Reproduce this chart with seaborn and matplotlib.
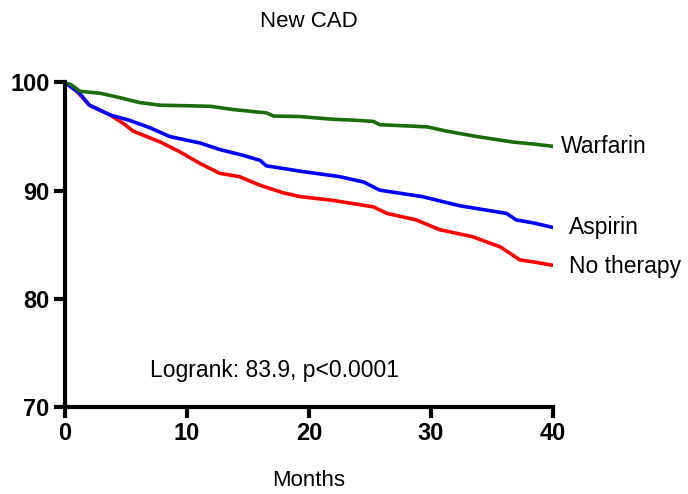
import pandas as pd
import matplotlib
matplotlib.use('Agg')
import matplotlib.pyplot as plt
import seaborn as sns

# survival curves (months, % event free)
warfarin_months = [0, 0.5, 1.2, 2.0, 2.9, 4.5, 6.1, 7.8, 10.0, 11.9, 13.8, 15.5, 16.5, 17.1, 19.3, 22.0, 24.0, 25.3, 25.8, 29.7, 31.3, 33.8, 36.7, 38.5, 40.0]
warfarin_pct = [100, 99.8, 99.2, 99.1, 99.0, 98.6, 98.15, 97.9, 97.85, 97.8, 97.5, 97.3, 97.2, 96.9, 96.85, 96.6, 96.5, 96.4, 96.1, 95.9, 95.5, 95.0, 94.5, 94.3, 94.1]

aspirin_months = [0, 1.2, 2.0, 3.7, 5.3, 7.0, 8.6, 11.1, 12.7, 14.5, 16.0, 16.5, 19.3, 22.5, 24.5, 25.8, 29.3, 32.4, 36.2, 37.0, 38.5, 40.0]
aspirin_pct = [100, 99.0, 97.9, 97.0, 96.5, 95.8, 95.0, 94.4, 93.8, 93.3, 92.8, 92.3, 91.8, 91.3, 90.8, 90.05, 89.45, 88.6, 87.9, 87.3, 87.0, 86.6]

none_months = [0, 0.96, 2.0, 3.7, 4.8, 5.6, 7.8, 9.4, 11.1, 12.7, 14.3, 16.0, 17.9, 19.3, 22.0, 25.3, 26.4, 28.8, 30.7, 33.4, 35.7, 37.3, 38.5, 40.0]
none_pct = [100, 99.2, 97.9, 97.0, 96.2, 95.5, 94.5, 93.6, 92.5, 91.6, 91.3, 90.5, 89.8, 89.45, 89.1, 88.5, 87.9, 87.3, 86.4, 85.75, 84.8, 83.6, 83.4, 83.1]

groups = ['No therapy', 'Aspirin', 'Warfarin']
colours = {'No therapy': '#ff0000', 'Aspirin': '#0000ff', 'Warfarin': '#1e6b0e'}

df = pd.concat([
    pd.DataFrame({'Months': none_months, 'pct': none_pct, 'group': 'No therapy'}),
    pd.DataFrame({'Months': aspirin_months, 'pct': aspirin_pct, 'group': 'Aspirin'}),
    pd.DataFrame({'Months': warfarin_months, 'pct': warfarin_pct, 'group': 'Warfarin'}),
])

sns.set_style('white')
plt.rcParams['font.family'] = ['Liberation Sans', 'DejaVu Sans']
plt.rcParams['text.color'] = 'black'
plt.rcParams['axes.labelcolor'] = 'black'
plt.rcParams['xtick.color'] = 'black'
plt.rcParams['ytick.color'] = 'black'

fig = plt.figure(figsize=(6.88, 4.94), dpi=100)
ax = fig.add_axes([0.0945, 0.176, 0.709, 0.657])

sns.lineplot(data=df, x='Months', y='pct', hue='group', hue_order=groups,
             palette=colours, linewidth=2.6, legend=False, ax=ax, sort=False)

ax.set_xlim(0, 40)
ax.set_ylim(70, 100)
ax.set_xticks([0, 10, 20, 30, 40])
ax.set_yticks([70, 80, 90, 100])
for side in ['top', 'right']:
    ax.spines[side].set_visible(False)
for side in ['left', 'bottom']:
    ax.spines[side].set_linewidth(3)
    ax.spines[side].set_color('black')
ax.tick_params(axis='both', direction='out', length=8, width=3, labelsize=17, pad=3,
               bottom=True, left=True)
for lab in ax.get_xticklabels() + ax.get_yticklabels():
    lab.set_fontweight('bold')

ax.set_xlabel('Months', fontsize=16, labelpad=18)
ax.set_ylabel('')
ax.set_title('New CAD', fontsize=16, pad=40)

# end-of-line labels
ax.text(40.7, warfarin_pct[-1], 'Warfarin', fontsize=16.5, va='center', ha='left')
ax.text(41.3, aspirin_pct[-1], 'Aspirin', fontsize=16.5, va='center', ha='left')
ax.text(41.3, none_pct[-1] - 0.1, 'No therapy', fontsize=16.5, va='center', ha='left')
ax.text(7.0, 73.4, 'Logrank: 83.9, p<0.0001', fontsize=16.5, va='center', ha='left')

fig.savefig('out.png', dpi=100)
